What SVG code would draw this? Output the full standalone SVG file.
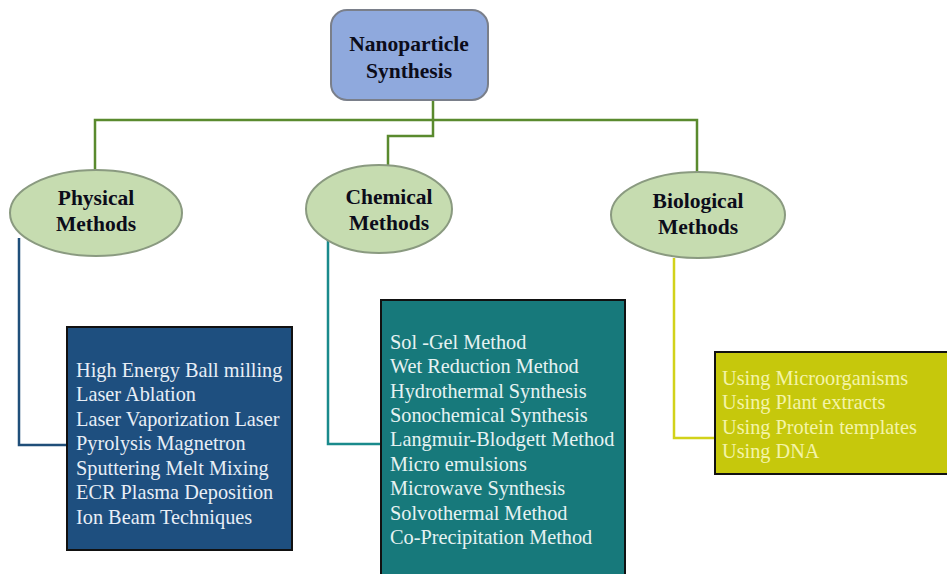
<svg xmlns="http://www.w3.org/2000/svg" width="947" height="574" viewBox="0 0 947 574">
  <style>
    .lbl { font-family: "Liberation Serif", "Times New Roman", serif; font-weight: bold; font-size: 21.5px; fill: #0c0c1a; text-anchor: middle; }
    .oval { fill: #c6dcb0; stroke: #8a9a80; stroke-width: 2; }
    .item { font-family: "Liberation Serif", "Times New Roman", serif; font-size: 20.3px; }
    .conn { fill: none; stroke-width: 2.5; }
  </style>
  <rect width="947" height="574" fill="#ffffff"/>

  <!-- connectors -->
  <g id="connectors">
    <path class="conn" stroke="#5a8a2e" d="M433,100 V136 H388 V166"/>
    <path class="conn" stroke="#5a8a2e" d="M95,171 V120 H697 V180"/>
    <path class="conn" stroke="#1f4e79" d="M19,238 V445 H68"/>
    <path class="conn" stroke="#1a8a8c" d="M328,240 V444 H381"/>
    <path class="conn" stroke="#d2d21a" d="M674,258 V438 H715"/>
  </g>

  <!-- root -->
  <g id="root">
    <rect x="331" y="10" width="157" height="90" rx="16" fill="#8fa9dd" stroke="#7a7f8a" stroke-width="2"/>
    <text class="lbl" x="409" y="51">Nanoparticle</text>
    <text class="lbl" x="409" y="78">Synthesis</text>
  </g>

  <!-- method categories -->
  <g id="physical">
    <ellipse class="oval" cx="96" cy="213" rx="86" ry="43"/>
    <text class="lbl" x="96" y="205">Physical</text>
    <text class="lbl" x="96" y="231">Methods</text>
  </g>
  <g id="chemical">
    <ellipse class="oval" cx="379" cy="209" rx="73" ry="44"/>
    <text class="lbl" x="389" y="204">Chemical</text>
    <text class="lbl" x="389" y="230">Methods</text>
  </g>
  <g id="biological">
    <ellipse class="oval" cx="698" cy="215" rx="87" ry="43"/>
    <text class="lbl" x="698" y="208">Biological</text>
    <text class="lbl" x="698" y="234">Methods</text>
  </g>

  <!-- technique lists -->
  <g id="physical-list">
    <rect x="67" y="327" width="225" height="223" fill="#1e4f7f" stroke="#111111" stroke-width="2"/>
    <g class="item" fill="#e8eef6">
      <text x="76" y="377">High Energy Ball milling</text>
      <text x="76" y="401">Laser Ablation</text>
      <text x="76" y="426">Laser Vaporization Laser</text>
      <text x="76" y="450">Pyrolysis Magnetron</text>
      <text x="76" y="475">Sputtering Melt Mixing</text>
      <text x="76" y="499">ECR Plasma Deposition</text>
      <text x="76" y="524">Ion Beam Techniques</text>
    </g>
  </g>
  <g id="chemical-list">
    <rect x="381" y="300" width="244" height="280" fill="#17797b" stroke="#111111" stroke-width="2"/>
    <g class="item" fill="#e6f2f2">
      <text x="390" y="349">Sol -Gel Method</text>
      <text x="390" y="373">Wet Reduction Method</text>
      <text x="390" y="398">Hydrothermal Synthesis</text>
      <text x="390" y="422">Sonochemical Synthesis</text>
      <text x="390" y="446">Langmuir-Blodgett Method</text>
      <text x="390" y="471">Micro emulsions</text>
      <text x="390" y="495">Microwave Synthesis</text>
      <text x="390" y="520">Solvothermal Method</text>
      <text x="390" y="544">Co-Precipitation Method</text>
    </g>
  </g>
  <g id="biological-list">
    <rect x="715" y="352" width="240" height="122" fill="#c6c80c" stroke="#111111" stroke-width="2"/>
    <g class="item" fill="#f4f4a8">
      <text x="722" y="385">Using Microorganisms</text>
      <text x="722" y="409">Using Plant extracts</text>
      <text x="722" y="434">Using Protein templates</text>
      <text x="722" y="458">Using DNA</text>
    </g>
  </g>
</svg>
